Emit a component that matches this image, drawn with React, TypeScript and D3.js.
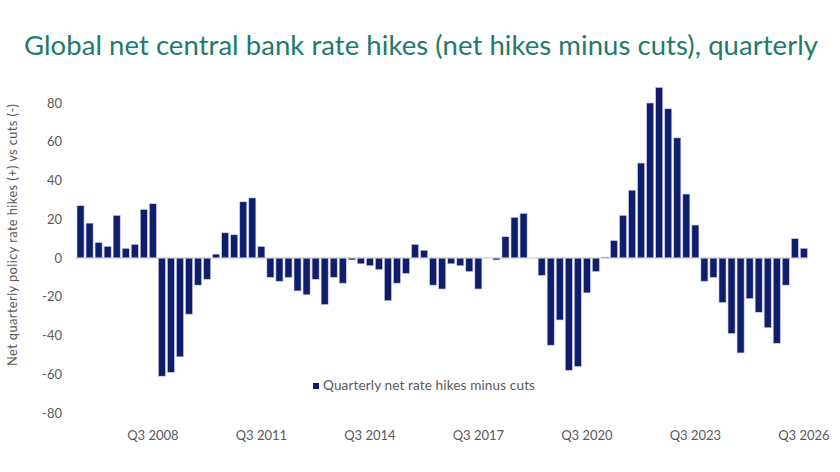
import React from "react";
import * as d3 from "d3";

const quarters: string[] = (() => {
  const out: string[] = [];
  let y = 2006, q = 3;
  for (let i = 0; i < 81; i++) {
    out.push(`Q${q} ${y}`);
    q++;
    if (q > 4) { q = 1; y++; }
  }
  return out;
})();

const netHikes: number[] = [
  27, 18, 8, 6, 22, 5, 7, 25, 28, -61,
  -59, -51, -29, -14, -11, 2, 13, 12, 29, 31,
  6, -10, -12, -10, -17, -19, -11, -24, -10, -13,
  -1, -3, -4, -6, -22, -13, -8, 7, 4, -14,
  -16, -3, -4, -7, -16, 0, -1, 11, 21, 23,
  0, -9, -45, -32, -58, -56, -18, -7, 0.5, 9,
  22, 35, 49, 80, 88, 77, 62, 33, 17, -12,
  -10, -23, -39, -49, -21, -28, -36, -44, -14, 10,
  5,
];

const tickLabels: string[] = ["Q3 2008", "Q3 2011", "Q3 2014", "Q3 2017", "Q3 2020", "Q3 2023", "Q3 2026"];
const yTicks: number[] = [80, 60, 40, 20, 0, -20, -40, -60, -80];

const W = 840, H = 472;
const FONT = "Lato, 'Noto Sans', sans-serif";

export default function App() {
  const x = d3.scaleBand<string>().domain(quarters).range([76, 808.4]).paddingInner(0.22).paddingOuter(0.11);
  const y = d3.scaleLinear().domain([-80, 80]).range([413, 103]);
  return (
    <svg width={W} height={H} style={{ position: "absolute", left: 0, top: 0, background: "#fff" }}>
      <text x={24} y={55} fontFamily={FONT} fontSize={27.5} fill="#237a6c" textLength={794} lengthAdjust="spacing">
        Global net central bank rate hikes (net hikes minus cuts), quarterly
      </text>
      {yTicks.map((t) => (
        <text key={t} x={62} y={y(t) + 4.5} textAnchor="end" fontFamily={FONT} fontSize={13} fill="#595959">
          {t}
        </text>
      ))}
      <text
        transform={`translate(16.5, ${235}) rotate(-90)`}
        textAnchor="middle"
        fontFamily={FONT}
        fontSize={12.8}
        fill="#595959"
        textLength={262}
        lengthAdjust="spacing"
      >
        Net quarterly policy rate hikes (+) vs cuts (-)
      </text>
      {netHikes.map((v, i) => {
        const q = quarters[i];
        const y0 = y(0), y1 = y(v);
        return (
          <rect
            key={q}
            x={x(q)}
            y={Math.min(y0, y1)}
            width={x.bandwidth()}
            height={Math.abs(y1 - y0)}
            fill="#0f1d6b"
            stroke="#c9cce9"
            strokeWidth={0.6}
          />
        );
      })}
      <line x1={76} x2={808.4} y1={y(0)} y2={y(0)} stroke="#c4c4c4" strokeWidth={1} />
      {tickLabels.map((l) => (
        <text key={l} x={(x(l) ?? 0) + x.bandwidth() / 2} y={440} textAnchor="middle" fontFamily={FONT} fontSize={13} fill="#595959">
          {l}
        </text>
      ))}
      <rect x={313} y={383} width={6} height={6} fill="#0f1d6b" />
      <text x={323} y={390} fontFamily={FONT} fontSize={13.6} fill="#595959" textLength={212} lengthAdjust="spacing">
        Quarterly net rate hikes minus cuts
      </text>
    </svg>
  );
}
